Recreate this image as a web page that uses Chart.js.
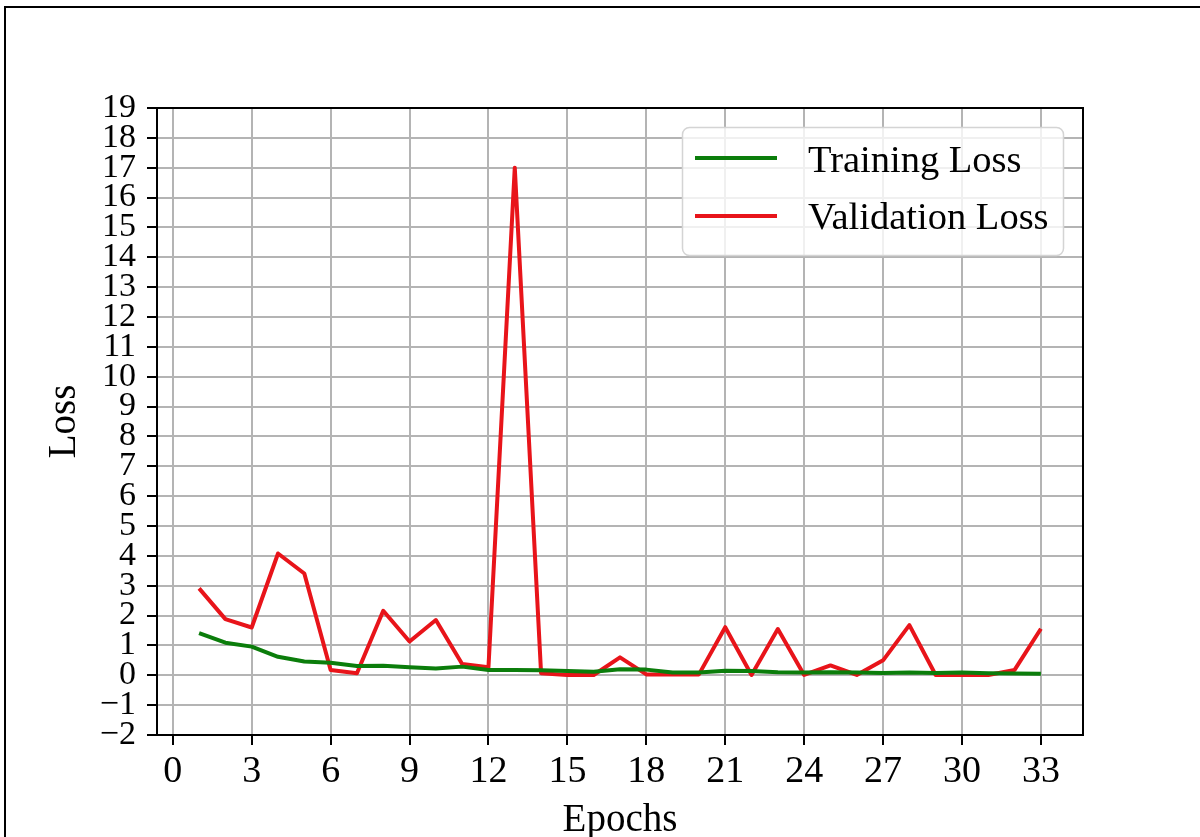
<!DOCTYPE html>
<html>
<head>
<meta charset="utf-8">
<script src="https://cdn.jsdelivr.net/npm/chart.js@4/dist/chart.umd.min.js"></script>
<style>
  body { margin: 0; background: #fff; }
  canvas { display: block; }
</style>
</head>
<body>
<canvas id="myChart" width="1200" height="837"></canvas>
<script>
// values
var epochs = [1,2,3,4,5,6,7,8,9,10,11,12,13,14,15,16,17,18,19,20,21,22,23,24,25,26,27,28,29,30,31,32,33];
var trainingLoss = [1.41,1.09,0.96,0.62,0.46,0.42,0.31,0.32,0.27,0.23,0.29,0.18,0.18,0.17,0.14,0.12,0.2,0.19,0.09,0.09,0.15,0.14,0.1,0.09,0.1,0.09,0.08,0.09,0.08,0.09,0.07,0.06,0.05];
var validationLoss = [2.91,1.88,1.6,4.08,3.41,0.18,0.07,2.16,1.13,1.85,0.38,0.27,17.0,0.07,0.01,0.01,0.6,0.03,0.03,0.03,1.61,0.01,1.55,0.01,0.33,0.01,0.5,1.68,0.01,0.01,0.01,0.18,1.56];
var xTicks = [0,3,6,9,12,15,18,21,24,27,30,33];
var yTicks = [-2,-1,0,1,2,3,4,5,6,7,8,9,10,11,12,13,14,15,16,17,18,19];

var serif = "'Liberation Serif', 'Times New Roman', serif";

function toPoints(vals){
    return epochs.map(function(e, i){ return {x: e, y: vals[i]}; });
}

//frame, top/right spines and the legend box
var extras = {
    id: 'extras',
    afterDraw: function(chart){
        var ctx = chart.ctx, a = chart.chartArea;
        ctx.save();
        ctx.fillStyle = '#000';
        ctx.fillRect(4, 6, 1196, 2);
        ctx.fillRect(4, 6, 2, 831);

        ctx.strokeStyle = '#000';
        ctx.lineWidth = 2;
        ctx.strokeRect(a.left, a.top, a.right - a.left, a.bottom - a.top);

        // legend
        ctx.beginPath();
        ctx.roundRect(682.5, 127.5, 381, 128, 7);
        ctx.fillStyle = 'rgba(255,255,255,0.8)';
        ctx.fill();
        ctx.strokeStyle = '#d4d4d4';
        ctx.lineWidth = 1.5;
        ctx.stroke();

        var rows = [[158, 172], [216, 229]];
        chart.data.datasets.forEach(function(ds, i){
            ctx.beginPath();
            ctx.moveTo(695, rows[i][0]);
            ctx.lineTo(777, rows[i][0]);
            ctx.strokeStyle = ds.borderColor;
            ctx.lineWidth = 4;
            ctx.stroke();
            ctx.fillStyle = '#000';
            ctx.font = '38.5px ' + serif;
            ctx.textBaseline = 'alphabetic';
            ctx.fillText(ds.label, 808, rows[i][1]);
        });
        ctx.restore();
    }
};

const ctx = document.getElementById('myChart').getContext('2d');
const myChart = new Chart(ctx, {
    type: 'line',
    data: {
        datasets: [{
            label: 'Training Loss',
            data: toPoints(trainingLoss),
            borderColor: '#0b7d0b',
            borderWidth: 4,
            borderJoinStyle: 'round',
            pointRadius: 0,
            tension: 0
        },
        {
            label: 'Validation Loss',
            data: toPoints(validationLoss),
            borderColor: '#e8141a',
            borderWidth: 4,
            borderJoinStyle: 'round',
            pointRadius: 0,
            tension: 0
        }]
    },
    options: {
        responsive: false,
        animation: false,
        layout: { padding: { left: 0, top: 108, right: 117, bottom: 0 } },
        plugins: { legend: { display: false }, tooltip: { enabled: false } },
        scales: {
            x: {
                type: 'linear',
                min: -0.6,
                max: 34.6,
                afterBuildTicks: function(s){ s.ticks = xTicks.map(function(v){ return {value: v}; }); },
                afterFit: function(s){ s.height = 102; },
                grid: { color: '#b4b4b4', lineWidth: 2, tickColor: '#000', tickWidth: 2, tickLength: 10 },
                border: { color: '#000', width: 2 },
                ticks: { color: '#000', padding: 4, maxRotation: 0, autoSkip: false, font: { family: serif, size: 38 } },
                title: { display: true, text: 'Epochs', color: '#000', padding: { top: 0, bottom: 0 }, font: { family: serif, size: 39, lineHeight: 0.85 } }
            },
            y: {
                min: -2,
                max: 19,
                afterBuildTicks: function(s){ s.ticks = yTicks.map(function(v){ return {value: v}; }); },
                afterFit: function(s){ s.width = 157; },
                grid: { color: '#b4b4b4', lineWidth: 2, tickColor: '#000', tickWidth: 2, tickLength: 10 },
                border: { color: '#000', width: 2 },
                ticks: { color: '#000', padding: 11, autoSkip: false, font: { family: serif, size: 34 },
                    callback: function(v){ return v < 0 ? '\u2212' + Math.abs(v) : String(v); } },
                title: { display: true, text: 'Loss', color: '#000', padding: { top: 41, bottom: 0 }, font: { family: serif, size: 39 } }
            }
        }
    },
    plugins: [extras]
});
</script>
</body>
</html>
